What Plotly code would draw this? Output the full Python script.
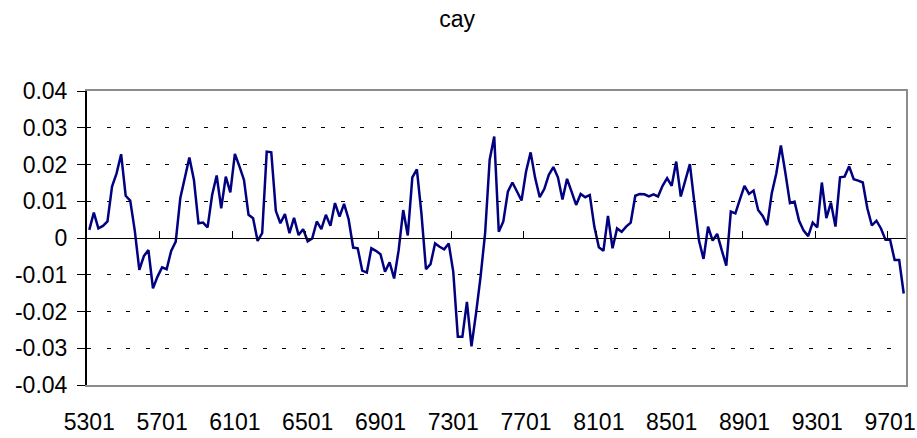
import plotly.graph_objects as go

# Quarterly categories 1953Q1 .. 1997Q4 (labels like "5301")
quarters = [f"{yy:02d}{q:02d}" for yy in range(53, 98) for q in range(1, 5)]

# cay series values
cay = [
    0.0022, 0.0069, 0.0026, 0.0033, 0.0045, 0.0140, 0.0176, 0.0228, 0.0115, 0.0102,
    0.0020, -0.0087, -0.0049, -0.0033, -0.0137, -0.0105, -0.0080, -0.0085, -0.0035, -0.0010,
    0.0108, 0.0167, 0.0219, 0.0158, 0.0040, 0.0042, 0.0029, 0.0117, 0.0170, 0.0081,
    0.0167, 0.0124, 0.0229, 0.0195, 0.0158, 0.0063, 0.0054, -0.0008, 0.0013, 0.0235,
    0.0233, 0.0074, 0.0040, 0.0065, 0.0013, 0.0055, 0.0008, 0.0024, -0.0009, -0.0001,
    0.0045, 0.0024, 0.0063, 0.0033, 0.0095, 0.0058, 0.0093, 0.0051, -0.0026, -0.0028,
    -0.0089, -0.0094, -0.0028, -0.0035, -0.0044, -0.0092, -0.0066, -0.0110, -0.0033, 0.0076,
    0.0007, 0.0165, 0.0187, 0.0067, -0.0085, -0.0071, -0.0015, -0.0024, -0.0031, -0.0015,
    -0.0092, -0.0269, -0.0269, -0.0174, -0.0295, -0.0205, -0.0105, 0.0013, 0.0213, 0.0276,
    0.0017, 0.0045, 0.0126, 0.0151, 0.0126, 0.0102, 0.0181, 0.0233, 0.0163, 0.0111,
    0.0133, 0.0172, 0.0193, 0.0165, 0.0105, 0.0161, 0.0126, 0.0090, 0.0120, 0.0111,
    0.0117, 0.0031, -0.0025, -0.0035, 0.0060, -0.0028, 0.0026, 0.0017, 0.0031, 0.0042,
    0.0115, 0.0120, 0.0119, 0.0113, 0.0119, 0.0113, 0.0142, 0.0163, 0.0142, 0.0208,
    0.0113, 0.0158, 0.0201, 0.0095, -0.0007, -0.0057, 0.0031, -0.0007, 0.0011, -0.0033,
    -0.0075, 0.0072, 0.0067, 0.0105, 0.0142, 0.0120, 0.0129, 0.0076, 0.0060, 0.0035,
    0.0122, 0.0176, 0.0252, 0.0176, 0.0095, 0.0099, 0.0047, 0.0020, 0.0005, 0.0042,
    0.0029, 0.0151, 0.0054, 0.0096, 0.0031, 0.0165, 0.0167, 0.0195, 0.0160, 0.0156,
    0.0151, 0.0081, 0.0034, 0.0047, 0.0026, -0.0005, -0.0005, -0.0060, -0.0060, -0.0151,
]

label_step = 16
ytick_vals = [0.04, 0.03, 0.02, 0.01, 0.0, -0.01, -0.02, -0.03, -0.04]
ytick_text = ["0.04", "0.03", "0.02", "0.01", "0", "-0.01", "-0.02", "-0.03", "-0.04"]

pos = list(range(len(cay)))
xlabel_vals = pos[::label_step]
xlabel_text = quarters[::label_step]
boundary_ticks = [p - 0.5 for p in pos[::label_step]]

FONT = "Liberation Sans, Arial, sans-serif"
xr = [-0.5, len(cay) - 0.5]
yr = [-0.04, 0.04]
FRAME = "#8c8c8c"

fig = go.Figure()
fig.add_trace(go.Scatter(
    x=pos, y=cay, mode="lines",
    line=dict(color="#000080", width=2.5),
    showlegend=False, hoverinfo="x+y",
))
# invisible copy to carry the category axis drawn at y = 0 and the right frame edge
fig.add_trace(go.Scatter(
    x=pos, y=cay, mode="lines", xaxis="x2", yaxis="y2",
    line=dict(color="rgba(0,0,0,0)", width=0),
    showlegend=False, hoverinfo="skip",
))

fig.update_layout(
    width=917, height=438,
    margin=dict(l=87, r=11, t=91, b=53, autoexpand=False),
    paper_bgcolor="white", plot_bgcolor="white",
    font=dict(family=FONT, size=23, color="black"),
    title=dict(text="cay", x=0.4985, xanchor="center", y=0.957, yanchor="middle",
               xref="container", yref="container",
               font=dict(family=FONT, size=23, color="black")),
    xaxis=dict(
        range=xr, tickmode="array", tickvals=xlabel_vals, ticktext=xlabel_text,
        showgrid=False, zeroline=False, showline=True, linecolor=FRAME, linewidth=2,
        mirror=True, ticks="",
        ticklabelstandoff=15, tickfont=dict(size=23), automargin=False,
    ),
    xaxis2=dict(
        range=xr, overlaying="x", anchor="free", position=0.5, side="bottom",
        tickmode="array", tickvals=boundary_ticks, showticklabels=False,
        ticks="inside", ticklen=7, tickwidth=1, tickcolor="black",
        showline=True, linecolor="black", linewidth=1.3,
        showgrid=False, zeroline=False, automargin=False,
    ),
    yaxis=dict(
        range=yr, tickmode="array", tickvals=ytick_vals, ticktext=ytick_text,
        showgrid=True, gridcolor="black", gridwidth=1, griddash="4px,15.5px",
        zeroline=False, showline=True, linecolor="black", linewidth=2,
        ticks="outside", ticklen=8, tickwidth=1, tickcolor="black",
        tickfont=dict(size=23), ticklabelstandoff=5, automargin=False,
    ),
    yaxis2=dict(
        range=yr, overlaying="y", side="right", anchor="x",
        showline=True, linecolor=FRAME, linewidth=2,
        showticklabels=False, ticks="", showgrid=False, zeroline=False,
        automargin=False,
    ),
)

fig.write_html("out.html", config={"displayModeBar": False},
               post_script="document.body.style.margin='0';")
